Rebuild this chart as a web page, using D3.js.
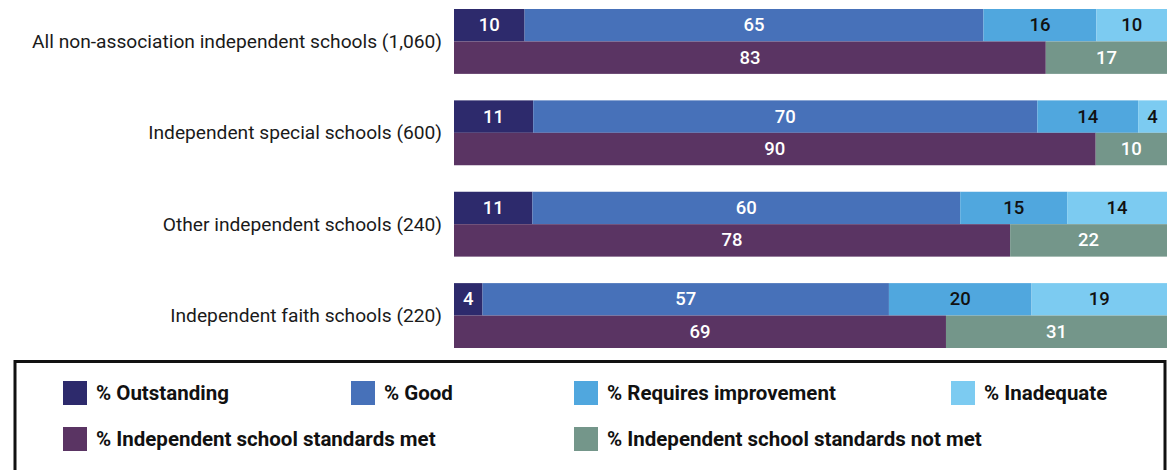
<!DOCTYPE html>
<html><head><meta charset="utf-8">
<script src="https://cdn.jsdelivr.net/npm/d3@7"></script>
<style>
html,body{margin:0;padding:0;background:#fff;}
svg{display:block;font-family:Roboto,"Open Sans",sans-serif;}
</style></head>
<body>
<svg id="chart" width="1167" height="470"></svg>
<script>
const categories = ["All non-association independent schools (1,060)","Independent special schools (600)","Other independent schools (240)","Independent faith schools (220)"];
const ratingKeys = ["Outstanding","Good","Requires improvement","Inadequate"];
const outstanding = [10,11,11,4];
const good = [65,70,60,57];
const requiresImprovement = [16,14,15,20];
const inadequate = [10,4,14,19];
const standardsKeys = ["Met","Not met"];
const standardsMet = [83,90,78,69];
const standardsNotMet = [17,10,22,31];
const legendLabels = ["% Outstanding","% Good","% Requires improvement","% Inadequate","% Independent school standards met","% Independent school standards not met"];

const colors = {
  "Outstanding":"#2d2a6c","Good":"#4771b9","Requires improvement":"#50a7de","Inadequate":"#7ccbf1",
  "Met":"#5a3463","Not met":"#74968a"
};
const textColors = {
  "Outstanding":"#fff","Good":"#fff","Requires improvement":"#111","Inadequate":"#111","Met":"#fff","Not met":"#fff"
};

const ratingRows = categories.map((c,i)=>({cat:c,"Outstanding":outstanding[i],"Good":good[i],"Requires improvement":requiresImprovement[i],"Inadequate":inadequate[i]}));
const stdRows = categories.map((c,i)=>({cat:c,"Met":standardsMet[i],"Not met":standardsNotMet[i]}));

const svg = d3.select("#chart");
const x = d3.scaleLinear().domain([0,1]).range([454,1167]);
const y = d3.scaleBand().domain(categories).range([9,348]).paddingInner(0.29).paddingOuter(0);
const sub = d3.scaleBand().domain(["rating","standards"]).range([0,y.bandwidth()]).padding(0);

function drawStack(rows, keys, part){
  const series = d3.stack().keys(keys).offset(d3.stackOffsetExpand)(rows);
  const g = svg.append("g");
  series.forEach(s=>{
    const key = s.key;
    s.forEach((d,i)=>{
      const y0 = y(d.data.cat)+sub(part);
      g.append("rect").attr("x",x(d[0])).attr("y",y0)
        .attr("width",x(d[1])-x(d[0])).attr("height",sub.bandwidth())
        .attr("fill",colors[key]);
      g.append("text").attr("x",(x(d[0])+x(d[1]))/2).attr("y",y0+sub.bandwidth()/2)
        .attr("text-anchor","middle").attr("dominant-baseline","central")
        .attr("font-size",18.5).attr("font-weight",500)
        .attr("fill",textColors[key]).text(d.data[key]);
    });
  });
}
drawStack(ratingRows, ratingKeys, "rating");
drawStack(stdRows, standardsKeys, "standards");

svg.append("g").selectAll("text").data(categories).join("text")
  .attr("x",442).attr("y",d=>y(d)+y.bandwidth()/2)
  .attr("text-anchor","end").attr("dominant-baseline","central")
  .attr("font-size",19.2).attr("fill","#1a1a1a").text(d=>d);

// legend
svg.append("rect").attr("x",15).attr("y",361.5).attr("width",1150).attr("height",130)
  .attr("fill","none").attr("stroke","#111").attr("stroke-width",3);
const legendKeys = ["Outstanding","Good","Requires improvement","Inadequate","Met","Not met"];
const colX = [63,351,574,951];
const rowY = [381,427];
const lg = svg.append("g");
legendKeys.forEach((k,i)=>{
  const cx = colX[i<4?i:(i-4)*2];
  const ry = rowY[i<4?0:1];
  lg.append("rect").attr("x",cx).attr("y",ry).attr("width",24).attr("height",24).attr("fill",colors[k]);
  lg.append("text").attr("x",cx+33).attr("y",ry+12).attr("dominant-baseline","central")
    .attr("font-size",20.5).attr("font-weight",700).attr("fill","#111").text(legendLabels[i]);
});
</script>
</body></html>
